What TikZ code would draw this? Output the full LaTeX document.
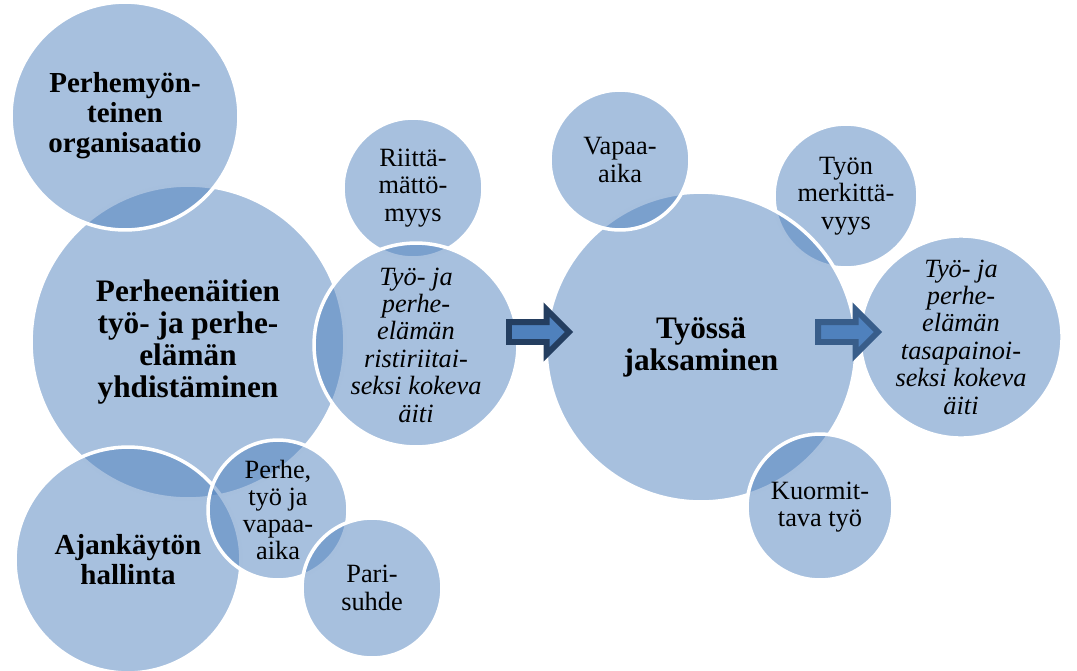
\documentclass[tikz,border=0pt]{standalone}
\definecolor{bubbleblue}{RGB}{79, 129, 189}
\definecolor{arrowdark}{RGB}{36, 62, 96}
\definecolor{arrowmid}{RGB}{56, 93, 138}
\usepackage{fontspec}
\setmainfont{Liberation Serif}
\usetikzlibrary{shapes.arrows}

\begin{document}
\begin{tikzpicture}[x=0.02cm, y=-0.02cm,
  bubble/.style={circle, fill=bubbleblue, fill opacity=0.5, text opacity=1, draw=white, line width=2pt,
    inner sep=0pt, minimum size=#1*0.04cm, align=center, font=\fontsize{15}{15.5}\selectfont},
  bigtext/.style={font=\bfseries\fontsize{17.8}{18.2}\selectfont},
  midtext/.style={font=\bfseries\fontsize{16.5}{17}\selectfont},
  ittext/.style={font=\itshape\fontsize{15}{15.6}\selectfont},
  blockarrow/.style={single arrow, fill=bubbleblue, draw=#1, line width=3.4pt, minimum height=1.2cm,
    minimum width=0.62cm, inner sep=0.14cm, outer sep=0pt}]
  \useasboundingbox (0,0) rectangle (1077,670);

  % Right group
  \node[bubble=72] (merkitys) at (846,196) {Työn\\merkittä-\\vyys};
  \node[bubble=155, bigtext] (jaksaminen) at (701,347) {Työssä\\jaksaminen};
  \node[bubble=70] (vapaa) at (620,160) {Vapaa-\\aika};
  \node[bubble=73] (kuormitus) at (820,507) {Kuormit-\\tava työ};
  \node[bubble=101, ittext] (tasapaino) at (961,337) {Työ- ja\\perhe-\\elämän\\tasapainoi-\\seksi kokeva\\äiti};

  % Left group
  \node[bubble=157, bigtext] (yhdistaminen) at (188,342) {Perheenäitien\\työ- ja perhe-\\elämän\\yhdistäminen};
  \node[bubble=114, midtext] (organisaatio) at (125,116) {Perhemyön-\\teinen\\organisaatio};
  \node[bubble=70] (riitta) at (413,188) {Riittä-\\mättö-\\myys};
  \node[bubble=102, ittext] (ristiriita) at (416,345) {Työ- ja\\perhe-\\elämän\\ristiriitai-\\seksi kokeva\\äiti};
  \node[bubble=113, midtext] (ajankaytto) at (128,560) {Ajankäytön\\hallinta};
  \node[bubble=70] (arki) at (278,510) {Perhe,\\työ ja\\vapaa-\\aika};
  \node[bubble=70] (parisuhde) at (372,588) {Pari-\\suhde};

  % Arrows
  \node[blockarrow=arrowdark] (nuoli1) at (534,332) {};
  \node[blockarrow=arrowmid] (nuoli2) at (843,332) {};
\end{tikzpicture}
\end{document}
